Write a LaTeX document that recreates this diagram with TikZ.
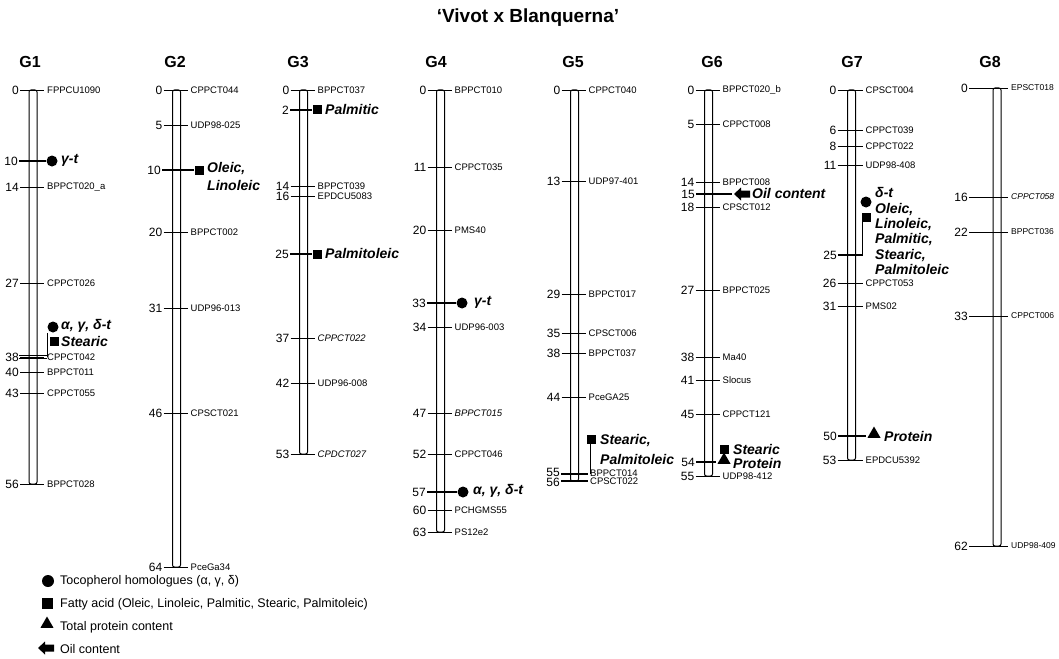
\documentclass[tikz,border=0pt]{standalone}
\usepackage{fontspec}
\setmainfont{Liberation Sans}
\usetikzlibrary{shapes.geometric}

\tikzset{
  bar/.style={draw, line width=1pt, rounded corners=2pt},
  tick/.style={line width=0.8pt},
  qtl/.style={line width=2.4pt},
  num/.style={font=\fontsize{12}{12}\selectfont, anchor=east, inner sep=1pt},
  lab/.style={font=\fontsize{9.5}{9.5}\selectfont, anchor=west, inner sep=1pt},
  trait/.style={font=\bfseries\itshape\fontsize{14}{14}\selectfont, anchor=west, inner sep=1pt},
  chr/.style={font=\bfseries\fontsize{16}{16}\selectfont},
  dot/.style={circle, fill, inner sep=0pt, minimum size=11pt},
  sq/.style={rectangle, fill, inner sep=0pt, minimum size=9pt},
  tri/.style={regular polygon, regular polygon sides=3, fill, inner sep=0pt, minimum size=15pt},
  legtxt/.style={font=\fontsize{12.5}{12.5}\selectfont, anchor=west, inner sep=1pt},
}

% [#1 tick length left of centre], #2 group name, #3 centre x, #4 top y, #5 bottom y,
% #6 list y/cM/marker
\newcommand\chrom[6][13]{%
  \draw[bar] (#3-4,#4) rectangle (#3+4,#5);
  \foreach \y/\n/\l in {#6} {
    \draw[tick] (#3-#1,\y) -- (#3+11,\y);
    \node[num] (#2-\n-cM) at (#3-#1,\y) {\n};
    \node[lab] (#2-\n) at (#3+13,\y) {\l};
  }
}

% left-pointing block arrow (oil content), #1 name, #2 x, #3 y of its centre
\newcommand\oilarrow[3]{%
  \coordinate (#1) at (#2,#3);
  \fill (#2+8,#3-3.5) -- (#2-1,#3-3.5) -- (#2-1,#3-6.5) -- (#2-8,#3)
        -- (#2-1,#3+6.5) -- (#2-1,#3+3.5) -- (#2+8,#3+3.5) -- cycle;
}

\begin{document}
\begin{tikzpicture}[x=1pt,y=-1pt]
\useasboundingbox (0,0) rectangle (1059,658);

\node[font=\bfseries\fontsize{19}{19}\selectfont] (title) at (528,18) {‘Vivot x Blanquerna’};

% group headers
\foreach \g/\x in {G1/30,G2/175,G3/298,G4/436,G5/573,G6/712,G7/852,G8/990}
  \node[chr] (\g) at (\x,62) {\g};

% ---------------- G1
\chrom{G1}{33}{90}{484}{90/0/FPPCU1090, 187/14/BPPCT020\_a, 283/27/CPPCT026,
  357/38/CPPCT042, 372/40/BPPCT011, 393/43/CPPCT055, 484/56/BPPCT028}
\draw[qtl] (19,161) -- (46,161);
\node[num] (G1-10-cM) at (19,161) {10};
\node[dot] (G1q1) at (52,161) {};
\node[trait] (G1t1) at (60,160) {γ-t};
\draw[line width=1.3pt] (19,355.5) -- (47,355.5) (19,358.5) -- (47,358.5);
\draw[line width=0.9pt] (47,333) -- (47,357);
\node[dot] (G1q2) at (53,327) {};
\node[trait] (G1t2) at (60,326) {α, γ, δ-t};
\node[sq] (G1q3) at (54,341) {};
\node[trait] (G1t3) at (60,341) {Stearic};

% ---------------- G2
\chrom{G2}{176.5}{90}{567}{90/0/CPPCT044, 125/5/UDP98-025, 232/20/BPPCT002,
  308/31/UDP96-013, 413/46/CPSCT021, 567/64/PceGa34}
\draw[qtl] (162,170) -- (194,170);
\node[num] (G2-10-cM) at (162,170) {10};
\node[sq] (G2q1) at (199,170) {};
\node[trait] (G2t1) at (206,169) {Oleic,};
\node[trait] (G2t2) at (206,185) {Linoleic};

% ---------------- G3
\chrom{G3}{303.5}{90}{454}{90/0/BPPCT037, 186/14/BPPCT039, 196/16/EPDCU5083,
  338/37/{\itshape CPPCT022}, 383/42/UDP96-008, 454/53/{\itshape CPDCT027}}
\draw[qtl] (290,110) -- (312,110);
\node[num] (G3-2-cM) at (290,110) {2};
\node[sq] (G3q1) at (317,110) {};
\node[trait] (G3t1) at (324,109) {Palmitic};
\draw[qtl] (290,254) -- (312,254);
\node[num] (G3-25-cM) at (290,254) {25};
\node[sq] (G3q2) at (317,254) {};
\node[trait] (G3t2) at (324,253) {Palmitoleic};

% ---------------- G4
\chrom{G4}{440.5}{90}{532}{90/0/BPPCT010, 167/11/CPPCT035, 230/20/PMS40,
  327/34/UDP96-003, 413/47/{\itshape BPPCT015}, 454/52/CPPCT046,
  510/60/PCHGMS55, 532/63/PS12e2}
\draw[qtl] (427,303) -- (456,303);
\node[num] (G4-33-cM) at (427,303) {33};
\node[dot] (G4q1) at (462,303) {};
\node[trait] (G4t1) at (473,302) {γ-t};
\draw[qtl] (427,492) -- (457,492);
\node[num] (G4-57-cM) at (427,492) {57};
\node[dot] (G4q2) at (463,492) {};
\node[trait] (G4t2) at (472,491) {α, γ, δ-t};

% ---------------- G5
\chrom{G5}{574.5}{90}{481}{90/0/CPPCT040, 181/13/UDP97-401, 294/29/BPPCT017,
  333/35/CPSCT006, 353/38/BPPCT037, 397/44/PceGA25}
\draw[line width=1.6pt] (561,474) -- (588,474) (561,481) -- (588,481);
\node[num] (G5-55-cM) at (561,472) {55};
\node[num] (G5-56-cM) at (561,482) {56};
\node[lab] (G5-55) at (589,473) {BPPCT014};
\node[lab] (G5-56) at (589,481) {CPSCT022};
\node[sq] (G5q1) at (591,439) {};
\draw[line width=0.8pt] (590,444) -- (590,474);
\node[trait] (G5t1) at (599,441) {Stearic,};
\node[trait] (G5t2) at (599,459) {Palmitoleic};

% ---------------- G6
\chrom{G6}{708.5}{90}{476}{90/0/BPPCT020\_b, 124/5/CPPCT008, 182/14/BPPCT008,
  207/18/CPSCT012, 290/27/BPPCT025, 357/38/Ma40, 380/41/Slocus,
  414/45/CPPCT121, 476/55/UDP98-412}
\draw[line width=1.4pt] (696,194) -- (732,194);
\node[num] (G6-15-cM) at (696,194) {15};
\oilarrow{G6q1}{742}{194}
\node[trait] (G6t1) at (751,193) {Oil content};
\draw[qtl] (696,462) -- (716,462);
\node[num] (G6-54-cM) at (696,462) {54};
\node[sq] (G6q2) at (724,449) {};
\node[tri] (G6q3) at (724,460) {};
\node[trait] (G6t2) at (732,449) {Stearic};
\node[trait] (G6t3) at (732,463) {Protein};

% ---------------- G7
\chrom[14]{G7}{851.5}{90}{460}{90/0/CPSCT004, 130/6/CPPCT039, 146/8/CPPCT022,
  165/11/UDP98-408, 283/26/CPPCT053, 306/31/PMS02, 460/53/EPDCU5392}
\draw[qtl] (838,255) -- (863,255);
\node[num] (G7-25-cM) at (838,255) {25};
\draw[line width=0.9pt] (862,221) -- (862,255);
\node[dot] (G7q1) at (866,202) {};
\node[sq] (G7q2) at (866,217) {};
\node[trait] (G7t0) at (874,192) {δ-t};
\node[trait, align=left, font=\bfseries\itshape\fontsize{14}{15.3}\selectfont,
      anchor=north west] (G7t1) at (874,202)
      {Oleic,\\Linoleic,\\Palmitic,\\Stearic,\\Palmitoleic};
\draw[qtl] (838,436) -- (866,436);
\node[num] (G7-50-cM) at (838,436) {50};
\node[tri] (G7q3) at (874,434) {};
\node[trait] (G7t2) at (883,436) {Protein};

% ---------------- G8
\begin{scope}[lab/.append style={font=\fontsize{8.5}{8.5}\selectfont}]
\chrom[28]{G8}{997}{88}{546}{88/0/EPSCT018, 197/16/{\itshape CPPCT058}, 232/22/BPPCT036,
  316/33/CPPCT006, 546/62/UDP98-409}
\end{scope}

% ---------------- legend
\node[dot, minimum size=12pt] (k1) at (48,581) {};
\node[legtxt] (k1t) at (59,581) {Tocopherol homologues (α, γ, δ)};
\node[sq, minimum size=11pt] (k2) at (47,603) {};
\node[legtxt] (k2t) at (59,604) {Fatty acid (Oleic, Linoleic, Palmitic, Stearic, Palmitoleic)};
\node[tri] (k3) at (47,624) {};
\node[legtxt] (k3t) at (59,627) {Total protein content};
\oilarrow{k4}{46}{648}
\node[legtxt] (k4t) at (59,649) {Oil content};
\end{tikzpicture}
\end{document}
